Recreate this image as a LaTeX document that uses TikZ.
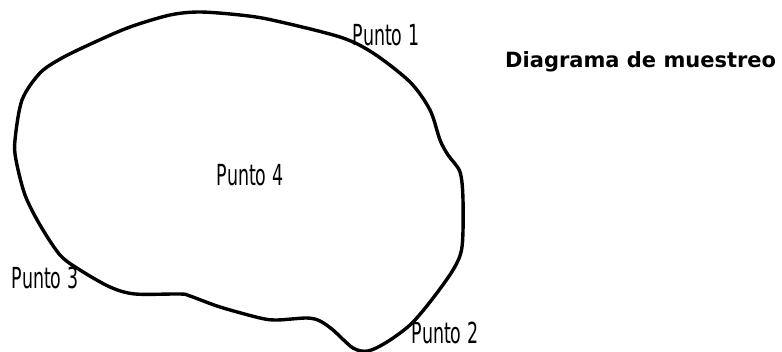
\documentclass[tikz,border=0pt]{standalone}
\usepackage{fontspec}
\newfontfamily\agency[FakeStretch=0.6]{DejaVu Sans}
\newfontfamily\titlefont{DejaVu Sans}
\tikzset{
  punto/.style={inner sep=0pt, font=\agency\fontsize{29}{30}\selectfont},
  titulo/.style={inner sep=0pt, anchor=base west, font=\titlefont\bfseries\fontsize{21}{24}\selectfont},
  contorno/.style={line width=3.4pt, line join=round}
}
\begin{document}
\begin{tikzpicture}[x=1pt,y=-1pt]
\useasboundingbox (0,0) rectangle (782,352);
\draw[contorno] plot[smooth cycle, tension=0.5] coordinates {
(15,140) (22,100) (40,73) (62,58) (95,42) (130,27) (170,15) (200,12) (240,15)
(272,20) (340,37) (373,53) (410,82) (430,110) (440,140) (448,155) (460,172)
(463,200) (462,247) (453,270) (430,302) (410,325) (387,342) (368,351)
(353,348) (333,330) (320,321) (307,318) (277,320) (260,318) (220,307)
(190,296) (180,294) (135,294) (110,287) (80,270) (60,255) (40,225) (25,195) (16,160)};
\node[punto] (p1) at (386,35) {Punto 1};
\node[punto] (p2) at (445,333) {Punto 2};
\node[punto] (p3) at (45,278) {Punto 3};
\node[punto] (p4) at (250,175) {Punto 4};
\node[titulo] (t) at (505,68) {Diagrama de muestreo};
\end{tikzpicture}
\end{document}
